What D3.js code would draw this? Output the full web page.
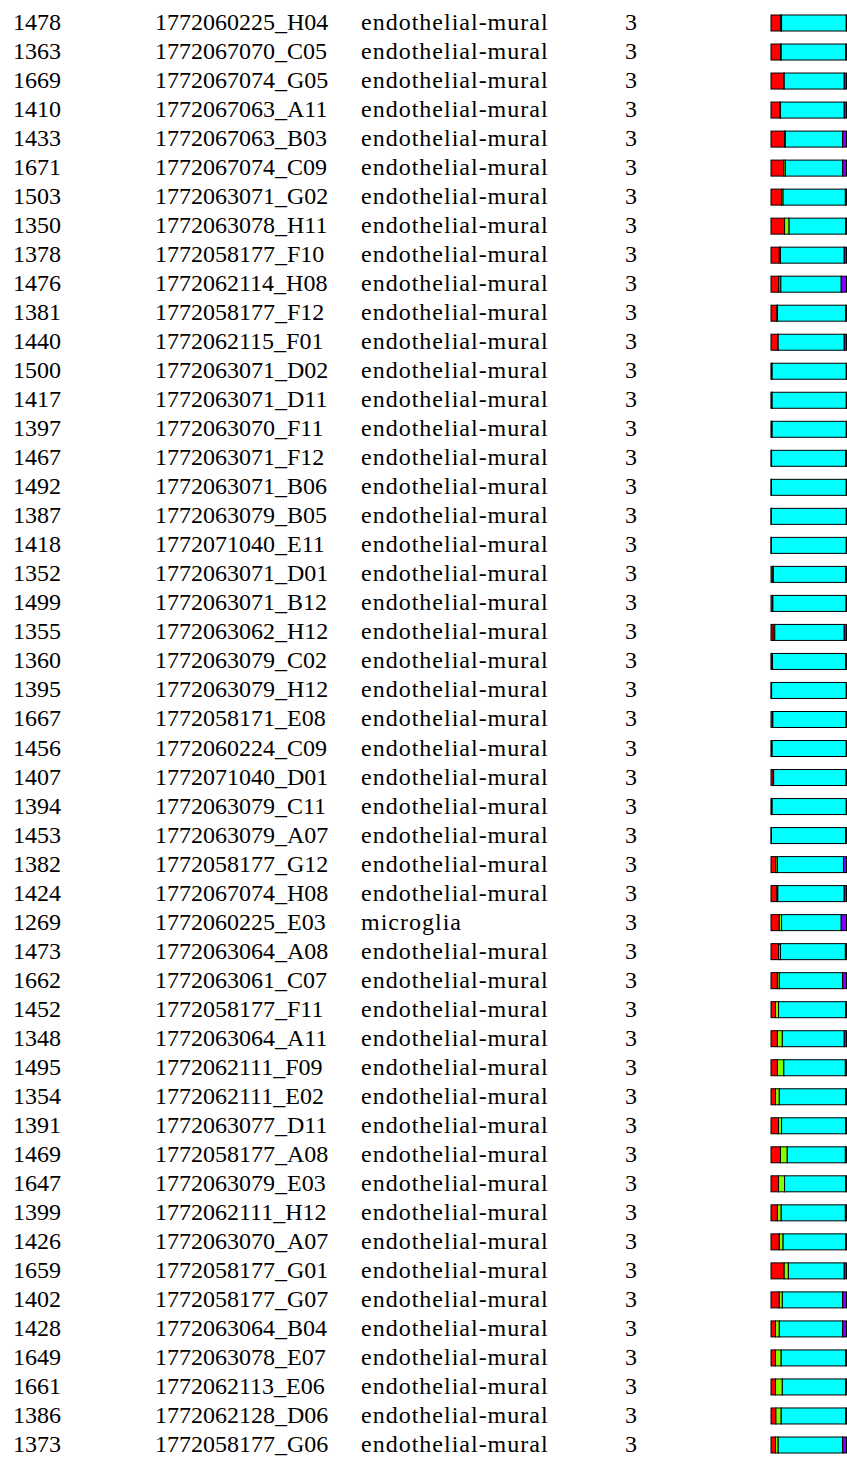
<!DOCTYPE html>
<meta charset="utf-8">
<style>
body { margin: 0; background: #fff; }
</style>
<svg width="847" height="1460"></svg>
<script src="https://d3js.org/d3.v7.min.js"></script>
<script>
var ids = [1478,1363,1669,1410,1433,1671,1503,1350,1378,1476,1381,1440,1500,1417,1397,1467,1492,1387,1418,1352,
  1499,1355,1360,1395,1667,1456,1407,1394,1453,1382,1424,1269,1473,1662,1452,1348,1495,1354,1391,1469,
  1647,1399,1426,1659,1402,1428,1649,1661,1386,1373];

var cells = ["1772060225_H04","1772067070_C05","1772067074_G05","1772067063_A11","1772067063_B03","1772067074_C09",
  "1772063071_G02","1772063078_H11","1772058177_F10","1772062114_H08","1772058177_F12","1772062115_F01",
  "1772063071_D02","1772063071_D11","1772063070_F11","1772063071_F12","1772063071_B06","1772063079_B05",
  "1772071040_E11","1772063071_D01","1772063071_B12","1772063062_H12","1772063079_C02","1772063079_H12",
  "1772058171_E08","1772060224_C09","1772071040_D01","1772063079_C11","1772063079_A07","1772058177_G12",
  "1772067074_H08","1772060225_E03","1772063064_A08","1772063061_C07","1772058177_F11","1772063064_A11",
  "1772062111_F09","1772062111_E02","1772063077_D11","1772058177_A08","1772063079_E03","1772062111_H12",
  "1772063070_A07","1772058177_G01","1772058177_G07","1772063064_B04","1772063078_E07","1772062113_E06",
  "1772062128_D06","1772058177_G06"];

var types = ["endothelial-mural","endothelial-mural","endothelial-mural","endothelial-mural","endothelial-mural",
  "endothelial-mural","endothelial-mural","endothelial-mural","endothelial-mural","endothelial-mural",
  "endothelial-mural","endothelial-mural","endothelial-mural","endothelial-mural","endothelial-mural",
  "endothelial-mural","endothelial-mural","endothelial-mural","endothelial-mural","endothelial-mural",
  "endothelial-mural","endothelial-mural","endothelial-mural","endothelial-mural","endothelial-mural",
  "endothelial-mural","endothelial-mural","endothelial-mural","endothelial-mural","endothelial-mural",
  "endothelial-mural","microglia","endothelial-mural","endothelial-mural","endothelial-mural",
  "endothelial-mural","endothelial-mural","endothelial-mural","endothelial-mural","endothelial-mural",
  "endothelial-mural","endothelial-mural","endothelial-mural","endothelial-mural","endothelial-mural",
  "endothelial-mural","endothelial-mural","endothelial-mural","endothelial-mural","endothelial-mural"];

var clusters = [3,3,3,3,3,3,3,3,3,3,3,3,3,3,3,3,3,3,3,3,3,3,3,3,3,3,3,3,3,3,3,3,3,3,3,3,3,3,3,3,3,3,3,3,3,3,3,3,3,3];

// membership fractions, one array per cluster
var red = [0.13,0.13,0.17,0.12,0.18,0.17,0.14,0.18,0.11,0.105,0.08,0.09,0.005,0.005,0.005,0.003,0.003,0.002,0.002,0.025,
  0.02,0.03,0.005,0.003,0.02,0.005,0.03,0.005,0.003,0.065,0.08,0.11,0.10,0.085,0.06,0.085,0.085,0.06,0.10,0.125,
  0.10,0.085,0.11,0.175,0.11,0.06,0.06,0.06,0.065,0.06];
var green = [0.01,0.005,0.005,0.005,0.01,0.02,0.02,0.06,0.015,0.025,0.005,0.005,0.01,0.01,0.01,0.005,0.003,0.003,0.003,0.005,
  0.005,0.02,0.015,0.005,0.005,0.01,0.005,0.01,0.003,0.02,0.01,0.03,0.025,0.025,0.04,0.065,0.085,0.05,0.04,0.09,
  0.08,0.05,0.05,0.055,0.04,0.05,0.075,0.09,0.07,0.035];
var cyan = [0.857,0.855,0.795,0.845,0.76,0.76,0.825,0.75,0.845,0.80,0.905,0.875,0.982,0.982,0.982,0.982,0.991,0.992,0.992,0.96,
  0.97,0.92,0.97,0.989,0.97,0.982,0.96,0.982,0.984,0.875,0.88,0.79,0.86,0.84,0.89,0.82,0.815,0.88,0.85,0.77,
  0.81,0.85,0.83,0.74,0.80,0.84,0.855,0.84,0.855,0.855];
var purple = [0.003,0.01,0.03,0.03,0.05,0.05,0.015,0.01,0.03,0.07,0.01,0.03,0.003,0.003,0.003,0.01,0.003,0.003,0.003,0.01,
  0.005,0.03,0.01,0.003,0.005,0.003,0.005,0.003,0.01,0.04,0.03,0.07,0.015,0.05,0.01,0.03,0.015,0.01,0.01,0.015,
  0.01,0.015,0.01,0.03,0.05,0.05,0.01,0.01,0.01,0.05];

var keys = ["red","green","cyan","purple"];
var colors = ["#ff0000","#80ff00","#00ffff","#8000ff"];

var rows = ids.map(function(id, i) {
  return {id: id, cell: cells[i], type: types[i], cluster: clusters[i],
    red: red[i], green: green[i], cyan: cyan[i], purple: purple[i]};
});

var svg = d3.select("svg");

var y = d3.scalePoint()
    .domain(ids)
    .range([22, 1444]);

var x = d3.scaleLinear()
    .domain([0, 1])
    .range([771, 846.5]);

var z = d3.scaleOrdinal().domain(keys).range(colors);

var barH = 16;
var serif = "'Liberation Serif', 'DejaVu Serif', 'Times New Roman', serif";

// text columns
var cols = [
  {x: 13, spacing: 0, get: function(d) { return d.id; }},
  {x: 155, spacing: 0, get: function(d) { return d.cell; }},
  {x: 361, spacing: 1, get: function(d) { return d.type; }},
  {x: 625, spacing: 0, get: function(d) { return d.cluster; }}
];

cols.forEach(function(c) {
  svg.append("g")
      .attr("font-family", serif)
      .attr("font-size", 24)
      .attr("letter-spacing", c.spacing)
    .selectAll("text")
    .data(rows)
    .enter().append("text")
      .attr("x", c.x)
      .attr("y", function(d) { return y(d.id) + 8; })
      .style("font-family", serif)
      .text(c.get);
});

var stack = d3.stack().keys(keys).offset(d3.stackOffsetExpand);

svg.append("g").selectAll("g")
  .data(stack(rows))
  .enter().append("g")
    .attr("fill", function(d) { return z(d.key); })
  .selectAll("rect")
  .data(function(d) { return d; })
  .enter().append("rect")
    .attr("x", function(d) { return x(d[0]); })
    .attr("y", function(d) { return y(d.data.id) - barH / 2 + 1; })
    .attr("width", function(d) { return x(d[1]) - x(d[0]); })
    .attr("height", barH)
    .attr("stroke", "#000")
    .attr("stroke-width", 1);
</script>
